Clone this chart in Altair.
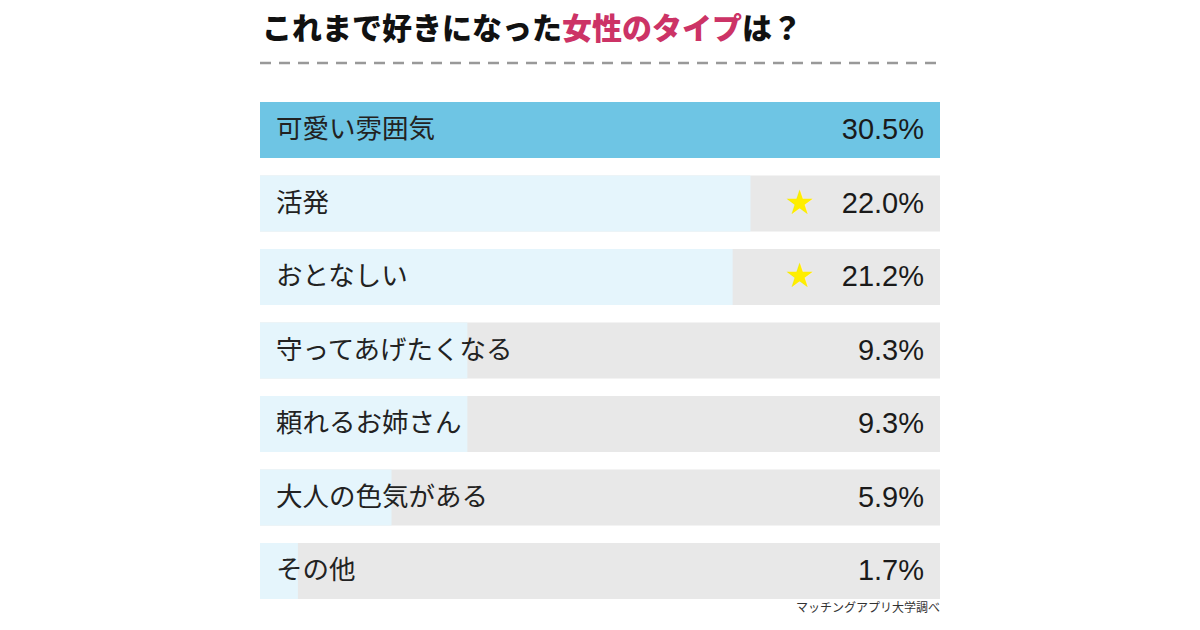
import altair as alt
import pandas as pd

categories = ["可愛い雰囲気", "活発", "おとなしい", "守ってあげたくなる", "頼れるお姉さん", "大人の色気がある", "その他"]
values = [30.5, 22.0, 21.2, 9.3, 9.3, 5.9, 1.7]
value_labels = ["30.5%", "22.0%", "21.2%", "9.3%", "9.3%", "5.9%", "1.7%"]
starred = [False, True, True, False, False, False, False]
title_black1 = "これまで好きになった"
title_pink = "女性のタイプ"
title_black2 = "は？"
source_note = "マッチングアプリ大学調べ"

JP = "Noto Sans CJK JP"
vmax = max(values)
df = pd.DataFrame({
    "category": categories,
    "value": values,
    "label": value_labels,
    "starred": starred,
    "top": [v == vmax for v in values],
    "full": [vmax] * len(values),
})

W = 680
H = 606          # plot area spans page y 8..614
OFF = 8          # page y of plot origin
BAND_TOP = 93.25 - OFF
BAND_BOT = BAND_TOP + 514.5

y = alt.Y("category:N", sort=categories, axis=None,
          scale=alt.Scale(paddingInner=0.238, paddingOuter=0.119,
                          range=[BAND_TOP, BAND_BOT]))
xs = alt.Scale(domain=[0, vmax], nice=False, zero=True)
base = alt.Chart(df)

bg = base.mark_bar(color="#E8E8E8").encode(
    x=alt.X("full:Q", scale=xs, axis=None), y=y)
fg = base.mark_bar().encode(
    x=alt.X("value:Q", scale=xs, axis=None), y=y,
    color=alt.condition("datum.top", alt.value("#6EC5E4"), alt.value("#E5F5FC")))
stars = base.transform_calculate(
    glyph="datum.starred ? '★' : ''"
).mark_text(align="center", baseline="middle", font="DejaVu Sans", fontSize=34,
            color="#FFEE00").encode(x=alt.value(540), y=y, text="glyph:N")
cat_text = base.mark_text(align="left", baseline="middle", font=JP, fontSize=26.5,
                          color="#222222").encode(x=alt.value(16), y=y, text="category:N")
val_text = base.mark_text(align="right", baseline="middle", font="Liberation Sans",
                          fontSize=29, color="#1a1a1a").encode(x=alt.value(664), y=y, text="label:N")

TFS = 30
ty = 30 - OFF
def title_part(txt, x0, color):
    return alt.Chart(pd.DataFrame({"t": [txt]})).mark_text(
        align="left", baseline="middle", font=JP, fontSize=TFS, fontWeight=900, color=color
    ).encode(x=alt.value(x0), y=alt.value(ty), text="t:N")

t1 = title_part(title_black1, 2, "#111111")
t2 = title_part(title_pink, 2 + TFS * len(title_black1), "#CC3366")
t3 = title_part(title_black2, 2 + TFS * (len(title_black1) + len(title_pink)), "#111111")

dash = alt.Chart(pd.DataFrame({"a": [0]})).mark_rule(
    color="#999999", strokeWidth=2.5, strokeDash=[11, 8]
).encode(x=alt.value(0), x2=alt.value(W), y=alt.value(63 - OFF))

note = alt.Chart(pd.DataFrame({"t": [source_note]})).mark_text(
    align="right", baseline="middle", font=JP, fontSize=12, color="#333333"
).encode(x=alt.value(W), y=alt.value(608 - OFF), text="t:N")

chart = alt.layer(bg, fg, stars, cat_text, val_text, t1, t2, t3, dash, note).properties(
    width=W, height=H,
    padding={"left": 252, "top": 0, "right": 252, "bottom": 0},
    autosize="none",
).configure_view(stroke=None)

chart.save("out.html", embed_options={"renderer": "svg", "actions": False})
